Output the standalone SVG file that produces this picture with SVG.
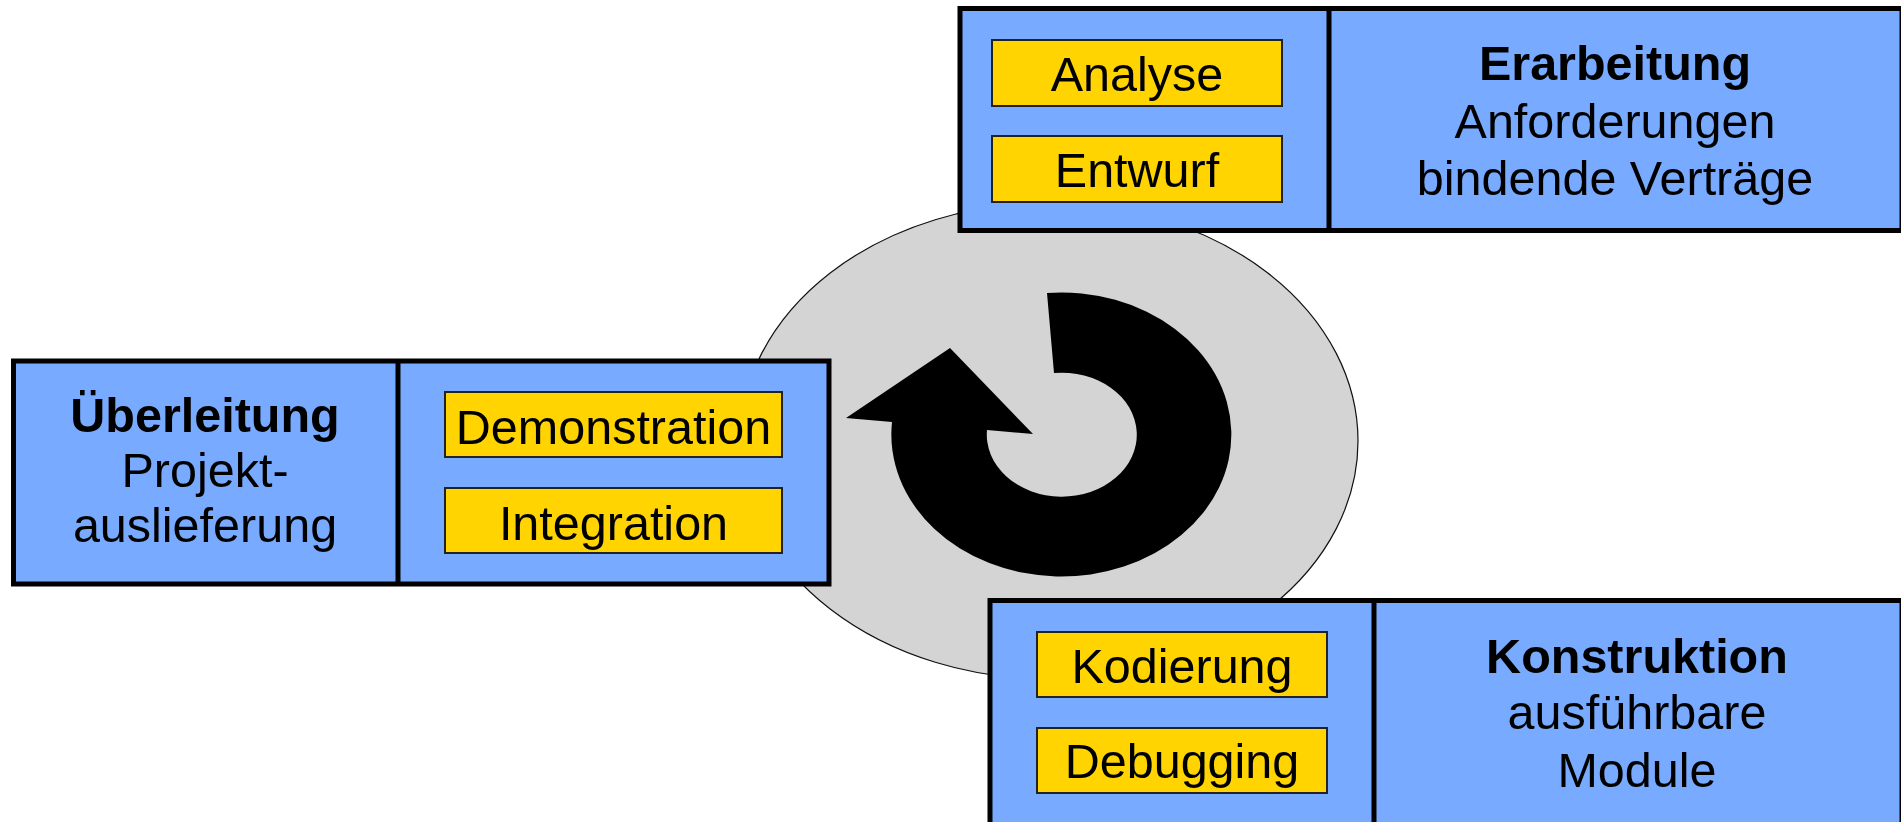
<svg xmlns="http://www.w3.org/2000/svg" width="1901" height="822" viewBox="0 0 1901 822">
<style>
.phase{fill:#78ABFF;stroke:#000;stroke-width:5}
.div{stroke:#000;stroke-width:5}
.task{fill:#FFD400;stroke:#222;stroke-width:2}
text{font-family:"Liberation Sans",Arial,sans-serif;font-size:48.5px;fill:#000;text-anchor:middle}
.b{font-weight:bold}
</style>
<rect width="1901" height="822" fill="#fff"/>
<g id="cycle">
<ellipse cx="1049" cy="441" rx="309" ry="238" fill="#D4D4D4" stroke="#111" stroke-width="1.2"/>
<path d="M 1047 293 A 170 142 0 1 1 892 422 L 846 418 L 950 348 L 1033 434 L 987 430 A 75 62 0 1 0 1054 373 Z" fill="#000"/>
</g>
<g id="connectors"></g>
<g id="erarbeitung">
<rect class="phase" x="960" y="8.5" width="942" height="222"/>
<line class="div" x1="1329" y1="8.5" x2="1329" y2="230.5"/>
<rect class="task" x="992" y="40" width="290" height="66"/>
<text x="1137" y="91">Analyse</text>
<rect class="task" x="992" y="136" width="290" height="66"/>
<text x="1137" y="187">Entwurf</text>
<text class="b" x="1615" y="80">Erarbeitung</text>
<text x="1615" y="138">Anforderungen</text>
<text x="1615" y="195">bindende Verträge</text>
</g>
<g id="ueberleitung">
<rect class="phase" x="13.5" y="361" width="815.5" height="223"/>
<line class="div" x1="398" y1="361" x2="398" y2="584"/>
<rect class="task" x="445" y="392" width="337" height="65"/>
<text x="613.5" y="444">Demonstration</text>
<rect class="task" x="445" y="488" width="337" height="65"/>
<text x="613.5" y="540">Integration</text>
<text class="b" x="205" y="432">Überleitung</text>
<text x="205" y="487">Projekt-</text>
<text x="205" y="542">auslieferung</text>
</g>
<g id="konstruktion">
<rect class="phase" x="990" y="600.5" width="912" height="240"/>
<line class="div" x1="1374" y1="600.5" x2="1374" y2="840"/>
<rect class="task" x="1037" y="632" width="290" height="65"/>
<text x="1182" y="683">Kodierung</text>
<rect class="task" x="1037" y="728" width="290" height="65"/>
<text x="1182" y="778">Debugging</text>
<text class="b" x="1637" y="673">Konstruktion</text>
<text x="1637" y="729">ausführbare</text>
<text x="1637" y="787">Module</text>
</g>
</svg>
